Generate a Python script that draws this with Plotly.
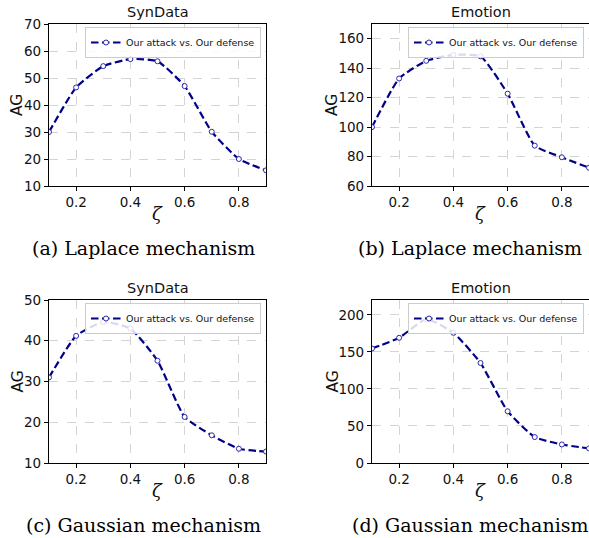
import plotly.graph_objects as go

W, H = 589, 538

zeta = [0.1, 0.2, 0.3, 0.4, 0.5, 0.6, 0.7, 0.8, 0.9]
lap_syn = [30.0, 46.5, 54.4, 57.0, 56.2, 47.0, 30.1, 20.0, 15.8]
lap_emo = [100.0, 133.0, 145.0, 149.0, 148.0, 122.7, 87.4, 79.5, 72.4]
gau_syn = [31.0, 41.2, 44.6, 43.0, 35.1, 21.3, 16.8, 13.5, 12.8]
gau_emo = [154.5, 169.0, 194.0, 175.7, 135.0, 69.8, 35.0, 25.0, 19.7]

series_label = "Our attack vs. Our defense"
datasets = ["SynData", "Emotion", "SynData", "Emotion"]
captions = ["(a) Laplace mechanism", "(b) Laplace mechanism",
            "(c) Gaussian mechanism", "(d) Gaussian mechanism"]
x_ticks = [0.2, 0.4, 0.6, 0.8]
y_ranges = [[10, 70], [60, 170], [10, 50], [0, 220]]
y_ticks = [[10, 20, 30, 40, 50, 60, 70],
           [60, 80, 100, 120, 140, 160],
           [10, 20, 30, 40, 50],
           [0, 50, 100, 150, 200]]
values = [lap_syn, lap_emo, gau_syn, gau_emo]

# panel pixel boxes: left, right, top, bottom
boxes = [(49, 266, 24, 186), (372, 589, 24, 186),
         (49, 266, 300, 463), (372, 589, 300, 463)]
caption_x = [143, 470, 143, 470]
ag_offset = [32, 40, 32, 40]

def px(x):
    return x / W

def py(y):
    return 1 - y / H

fig = go.Figure()
TEXT = "#111111"
LINE = "#00008B"
GRID = "#d4d4d4"

layout = dict(width=W, height=H, margin=dict(l=0, r=0, t=0, b=0, autoexpand=False),
              paper_bgcolor="white", plot_bgcolor="white", showlegend=True,
              font=dict(family="DejaVu Sans", color=TEXT))
annotations = []

for i in range(4):
    sfx = "" if i == 0 else str(i + 1)
    l, r, t, b = boxes[i]
    fig.add_trace(go.Scatter(
        x=zeta, y=values[i], mode="lines+markers", name=series_label,
        xaxis="x" + sfx, yaxis="y" + sfx, legend="legend" + sfx,
        line=dict(color=LINE, width=2.2, dash="7.5px,3.5px", shape="spline",
                  smoothing=0.5),
        marker=dict(symbol="circle", size=5, color="white",
                    line=dict(color="#2a2aa8", width=1)),
    ))
    layout["xaxis" + sfx] = dict(
        domain=[px(l), px(r)], anchor="y" + sfx, range=[0.1, 0.9],
        automargin=False,
        tickvals=x_ticks, ticktext=[f"{v:.1f}" for v in x_ticks],
        ticks="outside", ticklen=4, tickcolor="black", tickwidth=1,
        showline=True, linecolor="black", linewidth=1.2, mirror=True,
        showgrid=True, gridcolor=GRID, griddash="dash", gridwidth=1,
        zeroline=False, tickfont=dict(size=13.5, color=TEXT))
    layout["yaxis" + sfx] = dict(
        domain=[py(b), py(t)], anchor="x" + sfx, range=y_ranges[i],
        automargin=False,
        tickvals=y_ticks[i], ticks="outside", ticklen=4, tickcolor="black",
        tickwidth=1, showline=True, linecolor="black", linewidth=1.2,
        mirror=True, showgrid=True, gridcolor=GRID, griddash="dash",
        gridwidth=1, zeroline=False, tickfont=dict(size=13.5, color=TEXT))
    layout["legend" + sfx] = dict(
        x=px(r - 5), y=py(t + 3), xanchor="right", yanchor="top",
        xref="paper", yref="paper",
        bgcolor="rgba(255,255,255,0.85)", bordercolor="#cccccc", borderwidth=1,
        font=dict(size=9.5, color=TEXT), itemwidth=30, tracegroupgap=0)
    cx = (l + r) / 2
    common = dict(xref="paper", yref="paper", showarrow=False,
                  xanchor="center", yanchor="middle")
    annotations.append(dict(text=datasets[i], x=px(cx), y=py(t - 12),
                            font=dict(size=14.5, color=TEXT), **common))
    annotations.append(dict(text="AG", x=px(l - ag_offset[i]), y=py((t + b) / 2),
                            textangle=-90, font=dict(size=15.5, color=TEXT), **common))
    annotations.append(dict(text="<i>ζ</i>", x=px(cx), y=py(b + 27),
                            font=dict(size=18, family="DejaVu Serif", color=TEXT),
                            **common))
    annotations.append(dict(text=captions[i], x=px(caption_x[i]), y=py(b + 62),
                            font=dict(size=19, family="DejaVu Serif", color="black"),
                            **common))

layout["annotations"] = annotations
fig.update_layout(**layout)
fig.write_html("out.html",
               config={"displayModeBar": False},
               post_script="document.body.style.margin='0';"
                           "document.body.style.overflow='hidden';")
